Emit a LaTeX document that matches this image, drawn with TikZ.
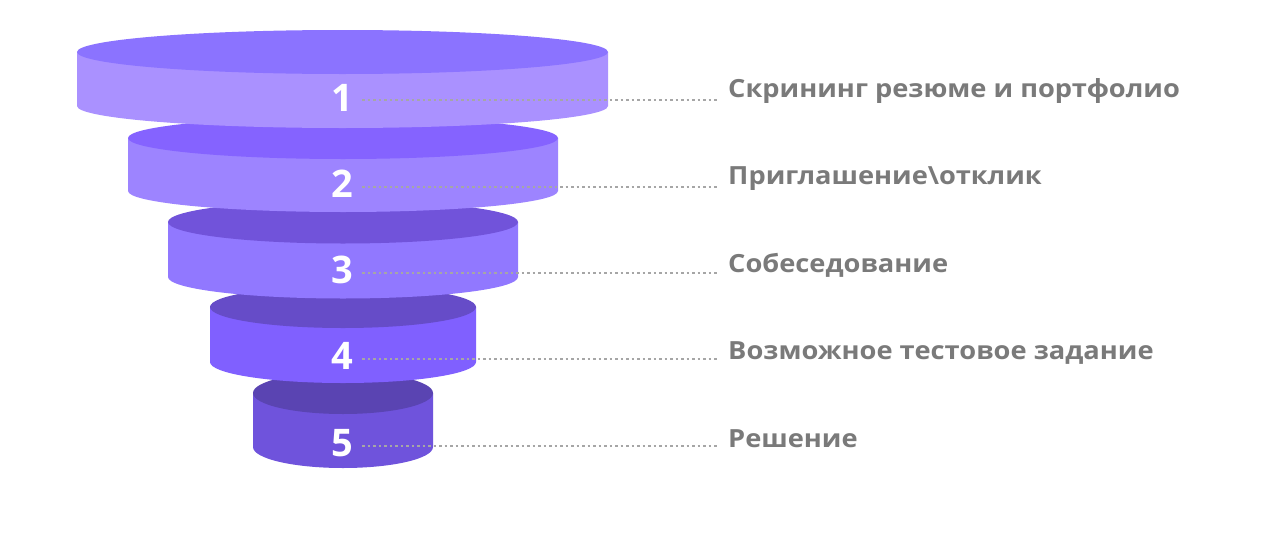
\documentclass[tikz,border=0pt]{standalone}
\usepackage{fontspec}
\setmainfont{Open Sans}
\newfontfamily\labfont[FakeStretch=1.09]{Open Sans}
\definecolor{labgray}{HTML}{7A7A7A}
\definecolor{dotgray}{HTML}{A6A6A6}
\definecolor{topA}{HTML}{8B73FF}\definecolor{sideA}{HTML}{AA91FF}
\definecolor{topB}{HTML}{8563FF}\definecolor{sideB}{HTML}{9D84FF}
\definecolor{topC}{HTML}{7153DA}\definecolor{sideC}{HTML}{9178FF}
\definecolor{topD}{HTML}{664CC8}\definecolor{sideD}{HTML}{8060FF}
\definecolor{topE}{HTML}{5A44B2}\definecolor{sideE}{HTML}{6F53DC}
\tikzset{
  numlabel/.style={text=white,font=\fontsize{38}{40}\selectfont\bfseries,anchor=base,inner sep=0pt},
  steplabel/.style={text=labgray,font=\labfont\fontsize{25}{28}\selectfont\bfseries,anchor=base west,inner sep=0pt},
  leader/.style={draw=dotgray,line width=2pt,dash pattern=on 2.5pt off 3pt}
}
% disk: cx, rx, ytop, ybottom, ry, topcolor, sidecolor
\newcommand{\funneldisk}[7]{%
  \fill[#7] (#1-#2,-#3) -- (#1-#2,-#4) arc[start angle=180,end angle=360,x radius=#2,y radius=#5] -- (#1+#2,-#3) -- cycle;
  \fill[#6] (#1,-#3) ellipse[x radius=#2,y radius=#5];
}
\begin{document}
\begin{tikzpicture}[x=1pt,y=1pt]
\useasboundingbox (0,0) rectangle (1280,-533);
\fill[white] (0,0) rectangle (1280,-533);
\funneldisk{343}{90}{393}{447}{21}{topE}{sideE}
\funneldisk{343}{133}{307}{362}{21}{topD}{sideD}
\funneldisk{343}{175}{222}{277}{21.5}{topC}{sideC}
\funneldisk{343}{215}{138}{191}{21}{topB}{sideB}
\funneldisk{342.5}{265.5}{52}{106}{22}{topA}{sideA}

\node[numlabel] (n1) at (342,-111) {1};
\node[numlabel] (n2) at (342,-197.3) {2};
\node[numlabel] (n3) at (342,-283.5) {3};
\node[numlabel] (n4) at (342,-369.8) {4};
\node[numlabel] (n5) at (342,-456) {5};

\node[steplabel] (l1) at (728,-97) {Скрининг резюме и портфолио};
\node[steplabel] (l2) at (728,-184.5) {Приглашение\textbackslash отклик};
\node[steplabel] (l3) at (728,-272) {Собеседование};
\node[steplabel] (l4) at (728,-359.5) {Возможное тестовое задание};
\node[steplabel] (l5) at (728,-447) {Решение};

\coordinate (d1) at (362,-99.5);  \coordinate (e1) at (718,-99.5);
\coordinate (d2) at (362,-186.5); \coordinate (e2) at (718,-186.5);
\coordinate (d3) at (362,-272.5); \coordinate (e3) at (718,-272.5);
\coordinate (d4) at (362,-359);   \coordinate (e4) at (718,-359);
\coordinate (d5) at (362,-445.5); \coordinate (e5) at (718,-445.5);
\draw[leader] (d1) -- (e1);
\draw[leader] (d2) -- (e2);
\draw[leader] (d3) -- (e3);
\draw[leader] (d4) -- (e4);
\draw[leader] (d5) -- (e5);
\end{tikzpicture}
\end{document}
